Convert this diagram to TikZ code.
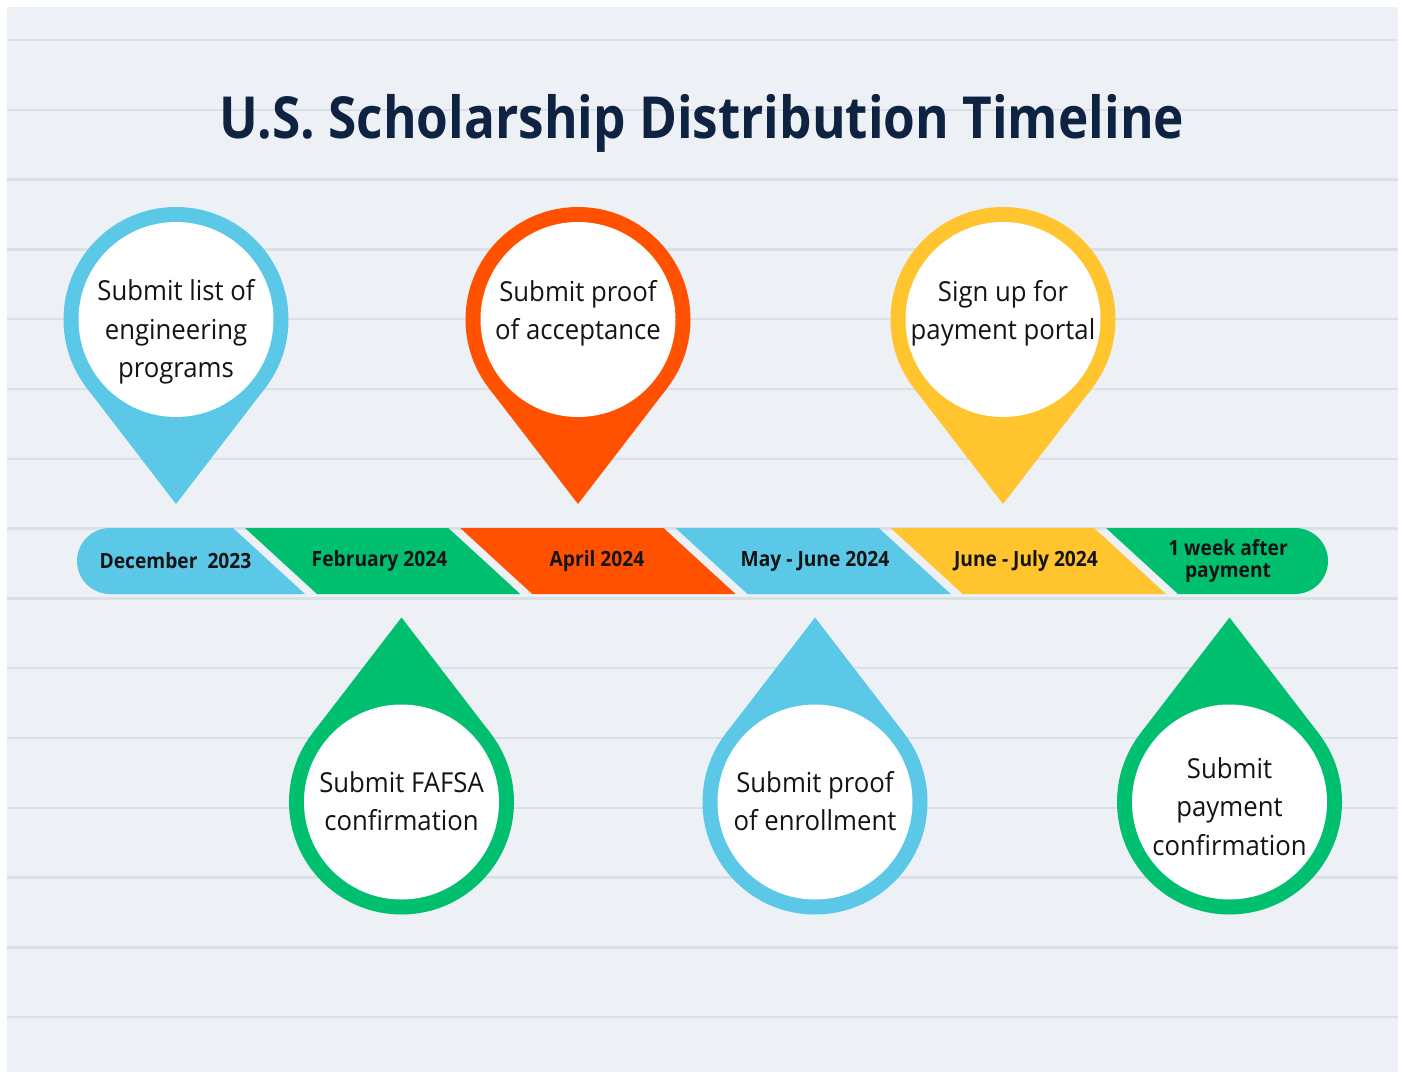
\documentclass[tikz,border=0pt]{standalone}
\usepackage{fontspec}
\setmainfont{Open Sans}
\newfontfamily\barfont{Open Sans}[FakeStretch=0.915]
\newfontfamily\titlefont{Open Sans}[FakeStretch=0.885]
\newfontfamily\pinfont{Open Sans}[FakeStretch=0.935]
\usetikzlibrary{calc}
\definecolor{bgc}{HTML}{EDF0F4}
\definecolor{linec}{HTML}{DAE0E8}
\definecolor{cblue}{HTML}{5BC8E8}
\definecolor{cgreen}{HTML}{00BF6F}
\definecolor{corange}{HTML}{FF5100}
\definecolor{cyellow}{HTML}{FFC42E}
\definecolor{navy}{HTML}{0E2241}
\definecolor{ink}{HTML}{141414}
\tikzset{
  pintext/.style={align=center, text=ink, inner sep=0pt, font=\pinfont\fontsize{27.5}{38.5}\selectfont},
  barlabel/.style={align=center, text=ink, inner sep=0pt, font=\barfont\bfseries\fontsize{21}{22.5}\selectfont},
  innercircle/.style={circle, fill=white, minimum size=195pt, inner sep=0pt}
}
\newcommand\drawpin[5]{%
  \coordinate (#1c) at (#2,#3);
  \coordinate (#1tip) at ($(#1c)+(#4:184.5)$);
  \fill[#5] (#1tip) -- ($(#1c)+(#4+52.4:112.5)$) -- ($(#1c)+(#4-52.4:112.5)$) -- cycle;
  \fill[#5] (#1c) circle[radius=112.5pt];
  \node[innercircle] (#1) at (#1c) {};
}
\begin{document}
\begin{tikzpicture}[x=1pt,y=-1pt]
\useasboundingbox (0,0) rectangle (1402,1075);
\fill[white] (0,0) rectangle (1402,1075);
\fill[bgc] (7,7) rectangle (1398,1072);
\foreach \k in {0,...,14} \draw[linec, line width=2.5pt] (7,{40+69.8*\k}) -- (1398,{40+69.8*\k});

\node[anchor=base, text=navy, inner sep=0pt, font=\titlefont\bfseries\fontsize{58}{58}\selectfont] (title) at (702,139) {U.S. Scholarship Distribution Timeline};

% timeline bar
\begin{scope}
\clip[rounded corners=33pt] (77,528) rectangle (1328,594);
\fill[cblue]   (0,528) -- (233,528) -- (305,594) -- (0,594) -- cycle;
\fill[cgreen]  (245,528) -- (448.25,528) -- (520.25,594) -- (317,594) -- cycle;
\fill[corange] (460.25,528) -- (663.5,528) -- (735.5,594) -- (532.25,594) -- cycle;
\fill[cblue]   (675.5,528) -- (878.75,528) -- (950.75,594) -- (747.5,594) -- cycle;
\fill[cyellow] (890.75,528) -- (1094,528) -- (1166,594) -- (962.75,594) -- cycle;
\fill[cgreen]  (1106,528) -- (1400,528) -- (1400,594) -- (1178,594) -- cycle;
\end{scope}
\node[barlabel] (l1) at (175.5,561) {December\ \ 2023};
\node[barlabel] (l2) at (379.5,561) {February 2024};
\node[barlabel] (l3) at (597,561) {April 2024};
\node[barlabel] (l4) at (815,561) {May - June 2024};
\node[barlabel] (l5) at (1026,561) {June - July 2024};
\node[barlabel] (l6) at (1228,561) {1 week after\\payment};

% pins
\drawpin{pa}{176}{319.5}{90}{cblue}
\drawpin{pb}{578}{319.5}{90}{corange}
\drawpin{pc}{1003}{319.5}{90}{cyellow}
\drawpin{pd}{401.5}{802}{270}{cgreen}
\drawpin{pe}{815}{802}{270}{cblue}
\drawpin{pf}{1229.5}{802}{270}{cgreen}

\node[pintext] (ta) at (176,332) {Submit list of\\engineering\\programs};
\node[pintext] (tb) at (578,313.5) {Submit proof\\of acceptance};
\node[pintext] (tc) at (1003,313.5) {Sign up for\\payment portal};
\node[pintext] (td) at (401.5,801) {Submit FAFSA\\confirmation};
\node[pintext] (te) at (815,801) {Submit proof\\of enrollment};
\node[pintext] (tf) at (1229.5,806.5) {Submit\\payment\\confirmation};
\end{tikzpicture}
\end{document}
